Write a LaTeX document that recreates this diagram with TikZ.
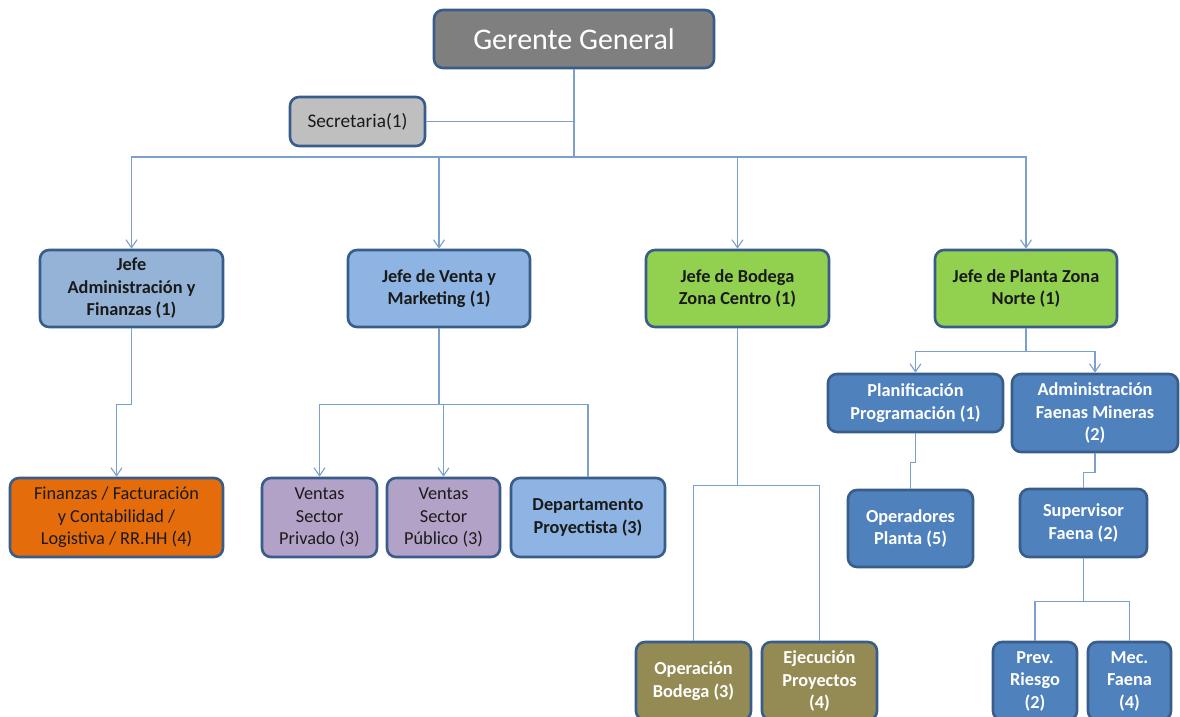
\documentclass[tikz,border=0pt]{standalone}
\usepackage{fontspec}
\setmainfont{Carlito}
\usetikzlibrary{arrows.meta}
\definecolor{bordc}{HTML}{385D8A}
\definecolor{edgec}{HTML}{7BA0CD}
\definecolor{ggfill}{HTML}{7F7F7F}
\definecolor{secfill}{HTML}{BFBFBF}
\definecolor{jafill}{HTML}{95B3D7}
\definecolor{jvfill}{HTML}{8DB4E2}
\definecolor{grfill}{HTML}{92D050}
\definecolor{orfill}{HTML}{E46C0A}
\definecolor{pufill}{HTML}{B3A2C7}
\definecolor{blfill}{HTML}{4F81BD}
\definecolor{olfill}{HTML}{948A54}
\definecolor{darktext}{HTML}{1A1A1A}
\tikzset{
  box/.style={draw=bordc, line width=2.6pt, rounded corners=9pt, align=center,
    inner sep=1pt, text=darktext},
  bx/.style 2 args={box, minimum width=#1, minimum height=#2},
  nb/.style={font=\fontsize{18.3}{22.5}\selectfont},
  bb/.style={font=\fontsize{18.3}{22.5}\selectfont\bfseries},
  wb/.style={font=\fontsize{18.3}{22.5}\selectfont\bfseries, text=white},
  edge/.style={draw=edgec, line width=1.4pt},
  arr/.style={edge, -{Straight Barb[length=8pt,width=11pt,line width=1.1pt]}}
}
\begin{document}
\begin{tikzpicture}[x=1pt,y=-1pt]
\clip (0,0) rectangle (1180,717);
\fill[white] (0,0) rectangle (1180,717);
% level 0
\node[bx={280}{58}, fill=ggfill, text=white, font=\fontsize{30}{34}\selectfont] (gg) at (574,39) {Gerente General};
\node[bx={135}{49}, fill=secfill, font=\fontsize{19.3}{23}\selectfont] (sec) at (357.5,121.5) {Secretaria(1)};
% level 1
\node[bx={183}{77}, fill=jafill, bb] (ja) at (131.5,288.5) {Jefe\\Administración y\\Finanzas (1)};
\node[bx={182}{77}, fill=jvfill, bb] (jv) at (439,288.5) {Jefe de Venta y\\Marketing (1)};
\node[bx={183}{77}, fill=grfill, bb] (jb) at (737.5,288.5) {Jefe de Bodega\\Zona Centro (1)};
\node[bx={182}{77}, fill=grfill, bb] (jp) at (1026,288.5) {Jefe de Planta Zona\\Norte (1)};
% level 2 left
\node[bx={213}{79}, fill=orfill, nb] (fin) at (116.5,517.5) {Finanzas / Facturación\\y Contabilidad /\\Logistiva / RR.HH (4)};
\node[bx={115}{79}, fill=pufill, nb] (vpr) at (319.5,517.5) {Ventas\\Sector\\Privado (3)};
\node[bx={113}{79}, fill=pufill, nb] (vpu) at (443.5,517.5) {Ventas\\Sector\\Público (3)};
\node[bx={154}{79}, fill=jvfill, bb] (dep) at (588,517.5) {Departamento\\Proyectista (3)};
% bodega
\node[bx={115}{78}, fill=olfill, wb] (ob) at (693.5,681) {Operación\\Bodega (3)};
\node[bx={115}{78}, fill=olfill, wb] (ep) at (819.5,681) {Ejecución\\Proyectos\\(4)};
% planta
\node[bx={175}{58}, fill=blfill, wb] (pp) at (915.5,403) {Planificación\\Programación (1)};
\node[bx={166}{78}, fill=blfill, wb] (af) at (1095,413) {Administración\\Faenas Mineras\\(2)};
\node[bx={125}{77}, fill=blfill, wb] (op) at (910.5,528.5) {Operadores\\Planta (5)};
\node[bx={127}{68}, fill=blfill, wb] (sf) at (1083.5,523) {Supervisor\\Faena (2)};
\node[bx={84}{78}, fill=blfill, wb] (pr) at (1035,681) {Prev.\\Riesgo\\(2)};
\node[bx={83}{78}, fill=blfill, wb] (mf) at (1129.5,681) {Mec.\\Faena\\(4)};
% connectors
\coordinate (bus) at (574,157);
\draw[edge] (gg.south) -- (bus);
\draw[edge] (sec.east) -- (sec.east -| gg.south);
\draw[arr] (bus) -| (ja.north);
\draw[arr] (bus) -| (jv.north);
\draw[arr] (bus) -| (jb.north);
\draw[arr] (bus) -| (jp.north);
\draw[arr] (ja.south) -- ++(0,76) -| (fin.north);
\draw[edge] (jv.south) -- ++(0,76) coordinate (vb);
\draw[arr] (vb) -| (vpr.north);
\draw[arr] (vb) -| (vpu.north);
\draw[edge] (vb) -| (dep.north);
\draw[edge] (jb.south) -- ++(0,157) coordinate (bb);
\draw[edge] (bb) -| (ob.north);
\draw[edge] (bb) -| (ep.north);
\draw[edge] (jp.south) -- ++(0,23) coordinate (pb);
\draw[arr] (pb) -| (pp.north);
\draw[arr] (pb) -| (af.north);
\draw[edge] (pp.south) -- ++(0,29) -| (op.north);
\draw[edge] (af.south) -- ++(0,19) -| (sf.north);
\draw[edge] (sf.south) -- ++(0,43) coordinate (sb);
\draw[edge] (sb) -| (pr.north);
\draw[edge] (sb) -| (mf.north);
\end{tikzpicture}
\end{document}
